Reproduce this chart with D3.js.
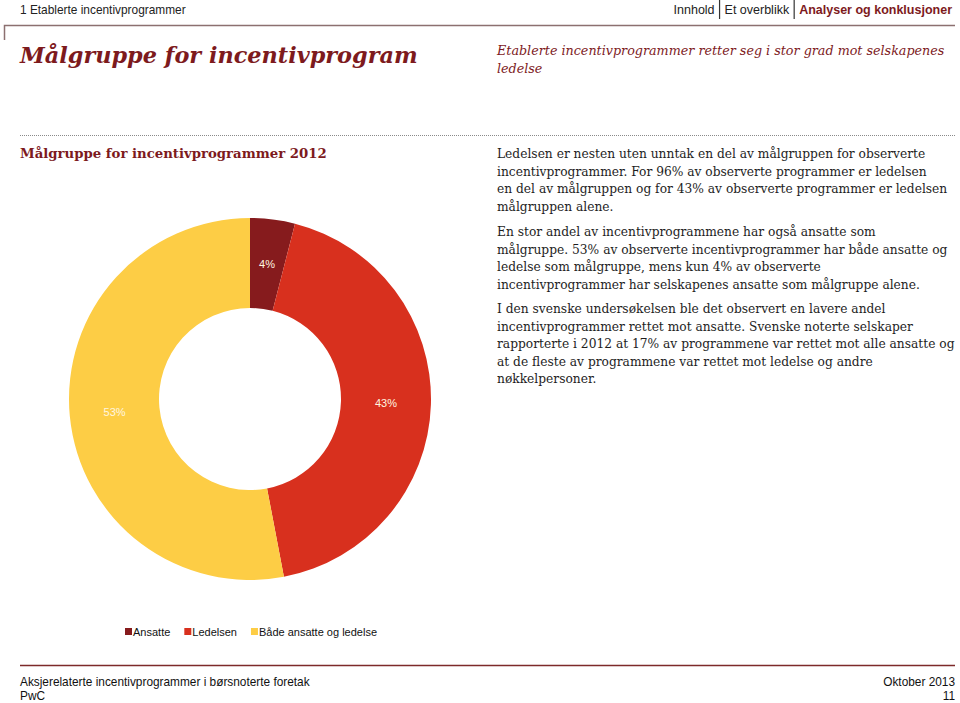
<!DOCTYPE html>
<html><head><meta charset="utf-8">
<script src="https://cdn.jsdelivr.net/npm/d3@7"></script>
<style>html,body{margin:0;padding:0;background:#fff;}svg{display:block;}</style>
</head><body>
<script>
// ---- data ----
const categories = ["Ansatte", "Ledelsen", "Både ansatte og ledelse"];
const values = [4, 43, 53];
const valueLabels = ["4%", "43%", "53%"];
const colors = ["#861b1d", "#d8301e", "#fdcd45"];

const headerLeft = "1 Etablerte incentivprogrammer";
const navItems = ["Innhold", "Et overblikk", "Analyser og konklusjoner"];
const pageTitle = "Målgruppe for incentivprogram";
const subtitleLines = ["Etablerte incentivprogrammer retter seg i stor grad mot selskapenes", "ledelse"];
const chartTitle = "Målgruppe for incentivprogrammer 2012";
const paragraphs = [
  ["Ledelsen er nesten uten unntak en del av målgruppen for observerte",
   "incentivprogrammer. For 96% av observerte programmer er ledelsen",
   "en del av målgruppen og for 43% av observerte programmer er ledelsen",
   "målgruppen alene."],
  ["En stor andel av incentivprogrammene har også ansatte som",
   "målgruppe. 53% av observerte incentivprogrammer har både ansatte og",
   "ledelse som målgruppe, mens kun 4% av observerte",
   "incentivprogrammer har selskapenes ansatte som målgruppe alene."],
  ["I den svenske undersøkelsen ble det observert en lavere andel",
   "incentivprogrammer rettet mot ansatte. Svenske noterte selskaper",
   "rapporterte i 2012 at 17% av programmene var rettet mot alle ansatte og",
   "at de fleste av programmene var rettet mot ledelse og andre",
   "nøkkelpersoner."]
];
const footerLeft = ["Aksjerelaterte incentivprogrammer i børsnoterte foretak", "PwC"];
const footerRight = ["Oktober 2013", "11"];

// ---- drawing ----
const W = 960, H = 703;
const svg = d3.select("body").append("svg").attr("width", W).attr("height", H);
const SANS = "'Liberation Sans', Arial, sans-serif";
const SERIF = "'DejaVu Serif', Georgia, serif";
const NARROW = "'Liberation Sans Narrow', 'Liberation Sans', Arial, sans-serif";
const DARK = "#7d1a1d";

function fitWidth(sel, target) {
  const node = sel.node();
  const fs = parseFloat(sel.attr("font-size"));
  const w = node.getComputedTextLength();
  if (w > 0) sel.attr("font-size", fs * target / w);
  return sel;
}

// header
fitWidth(svg.append("text").attr("x", 20).attr("y", 14).attr("font-family", SANS)
  .attr("font-size", 12).attr("fill", "#222").text(headerLeft), 166);

// nav right-aligned
{
  const g = svg.append("g");
  let x = 952;
  const items = navItems.slice().reverse();
  items.forEach((t, i) => {
    const bold = i === 0;
    const el = g.append("text").attr("x", x).attr("y", 14).attr("text-anchor", "end")
      .attr("font-family", SANS).attr("font-size", 12.5)
      .attr("font-weight", bold ? "bold" : "normal")
      .attr("fill", bold ? DARK : "#222").text(t);
    x -= el.node().getComputedTextLength();
    if (i < items.length - 1) {
      x -= 5;
      g.append("line").attr("x1", x).attr("x2", x).attr("y1", 0).attr("y2", 19)
        .attr("stroke", "#333").attr("stroke-width", 1.2);
      x -= 5;
    }
  });
}

// top rule
svg.append("path").attr("d", "M4.5,40 V25.5 H955").attr("fill", "none")
  .attr("stroke", "#8c7070").attr("stroke-width", 1.5);

// page title
fitWidth(svg.append("text").attr("x", 20).attr("y", 63).attr("font-family", SERIF)
  .attr("font-size", 24).attr("font-weight", "bold").attr("font-style", "italic")
  .attr("fill", DARK).text(pageTitle), 398);

// subtitle
{
  const s1 = svg.append("text").attr("x", 497).attr("y", 55).attr("font-family", SERIF)
    .attr("font-size", 15).attr("font-style", "italic").attr("fill", DARK).text(subtitleLines[0]);
  fitWidth(s1, 448);
  const fs = s1.attr("font-size");
  svg.append("text").attr("x", 497).attr("y", 73).attr("font-family", SERIF)
    .attr("font-size", fs).attr("font-style", "italic").attr("fill", DARK).text(subtitleLines[1]);
}

// dotted line
svg.append("line").attr("x1", 20).attr("x2", 955).attr("y1", 135.5).attr("y2", 135.5)
  .attr("stroke", "#8a8a8a").attr("stroke-width", 1).attr("stroke-dasharray", "1,1");

// chart title
fitWidth(svg.append("text").attr("x", 20).attr("y", 158).attr("font-family", SERIF)
  .attr("font-size", 15).attr("font-weight", "bold").attr("fill", DARK).text(chartTitle), 307);

// body text
{
  const g = svg.append("g").attr("font-family", SERIF).attr("fill", "#1e1e1e");
  const probe = g.append("text").attr("font-size", 14).text(paragraphs[2][2]);
  fitWidth(probe, 458);
  const fs = probe.attr("font-size");
  probe.remove();
  const starts = [158, 236, 313];
  paragraphs.forEach((p, pi) => {
    p.forEach((line, li) => {
      g.append("text").attr("x", 497).attr("y", starts[pi] + li * 17.5)
        .attr("font-size", fs).text(line);
    });
  });
}

// donut
{
  const cx = 250, cy = 399, rOut = 181, rIn = 91;
  const g = svg.append("g").attr("transform", `translate(${cx},${cy})`);
  const pie = d3.pie().sort(null).value(d => d.v);
  const data = pie(categories.map((c, i) => ({ c, v: values[i], label: valueLabels[i], color: colors[i] })));
  const arc = d3.arc().innerRadius(rIn).outerRadius(rOut);
  g.selectAll("path").data(data).join("path").attr("d", arc)
    .attr("fill", d => d.data.color).attr("stroke", "none");
  const lab = d3.arc().innerRadius((rIn + rOut) / 2).outerRadius((rIn + rOut) / 2);
  g.selectAll("text").data(data).join("text")
    .attr("transform", d => `translate(${lab.centroid(d)})`)
    .attr("text-anchor", "middle").attr("dy", "0.35em")
    .attr("font-family", SANS).attr("font-size", 11)
    .attr("fill", "#fff6e0").text(d => d.data.label);
}

// legend
{
  const g = svg.append("g").attr("font-family", SANS).attr("font-size", 11).attr("fill", "#111");
  let x = 125;
  categories.forEach((c, i) => {
    g.append("rect").attr("x", x).attr("y", 628).attr("width", 7).attr("height", 7).attr("fill", colors[i]);
    const t = g.append("text").attr("x", x + 8).attr("y", 636).text(c);
    x += 8 + t.node().getComputedTextLength() + 14;
  });
}

// footer
svg.append("line").attr("x1", 20).attr("x2", 955).attr("y1", 665.5).attr("y2", 665.5)
  .attr("stroke", "#7d2a2a").attr("stroke-width", 1.5);
{
  const g = svg.append("g").attr("font-family", NARROW).attr("fill", "#111");
  const f1 = g.append("text").attr("x", 20).attr("y", 686).attr("font-size", 13).text(footerLeft[0]);
  fitWidth(f1, 290);
  const fs = f1.attr("font-size");
  g.append("text").attr("x", 20).attr("y", 700).attr("font-size", fs).text(footerLeft[1]);
  g.append("text").attr("x", 955).attr("y", 686).attr("text-anchor", "end").attr("font-size", fs).text(footerRight[0]);
  g.append("text").attr("x", 955).attr("y", 700).attr("text-anchor", "end").attr("font-size", fs).text(footerRight[1]);
}
</script>
</body></html>
